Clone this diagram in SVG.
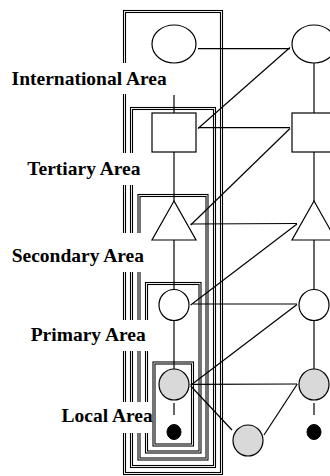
<svg xmlns="http://www.w3.org/2000/svg" width="330" height="476" viewBox="0 0 330 476">
<style>
.bx{fill:none;stroke:#000;stroke-width:1.1}
.bg{fill:#fff;stroke:none}
.lbl{font-family:"Liberation Serif","Times New Roman",serif;font-weight:bold;font-size:19.5px;fill:#000;text-anchor:end}
.n{fill:#fff;stroke:#000;stroke-width:1.2}
.g{fill:#d9d9d9;stroke:#000;stroke-width:1.2}
.k{fill:#000;stroke:#000;stroke-width:1}
.c line{stroke:#000;stroke-width:1.2}
</style>
<rect width="330" height="476" fill="#fff"/>
<g id="areas">
<g id="box-international"><rect class="bx" x="123.5" y="10.5" width="99" height="464"/><rect class="bx" x="125.5" y="12.5" width="95" height="460"/></g>
<g id="box-tertiary"><rect class="bx" x="130.5" y="107.5" width="85" height="360"/><rect class="bx" x="132.5" y="109.5" width="81" height="356"/></g>
<g id="box-secondary"><rect class="bx" x="138" y="194.5" width="70" height="265.5"/><rect class="bx" x="140" y="196.5" width="66" height="261.5"/></g>
<g id="box-primary"><rect class="bx" x="145.5" y="282.5" width="55.5" height="170.5"/><rect class="bx" x="147.5" y="284.5" width="51.5" height="166.5"/></g>
<g id="box-local"><rect class="bx" x="153" y="362" width="40.5" height="84"/><rect class="bx" x="155" y="364" width="36.5" height="80"/></g>
</g>
<g id="labels">
<g id="label-international"><rect class="bg" x="0" y="63" width="179" height="31"/><text class="lbl" x="166.7" y="85">International Area</text></g>
<g id="label-tertiary"><rect class="bg" x="0" y="153" width="146" height="32"/><text class="lbl" x="140.5" y="175">Tertiary Area</text></g>
<g id="label-secondary"><rect class="bg" x="0" y="233" width="146" height="39"/><text class="lbl" x="144" y="262">Secondary Area</text></g>
<g id="label-primary"><rect class="bg" x="0" y="320" width="150" height="31"/><text class="lbl" x="145.7" y="341">Primary Area</text></g>
<g id="label-local"><rect class="bg" x="0" y="402" width="152" height="31"/><text class="lbl" x="152.7" y="422">Local Area</text></g>
</g>
<g id="connectors" class="c">
<line x1="174" y1="95" x2="174" y2="113"/>
<line x1="174" y1="152" x2="174" y2="201"/>
<line x1="174" y1="240" x2="174" y2="289.5"/>
<line x1="174" y1="320.5" x2="174" y2="369"/>
<line x1="174" y1="403" x2="174" y2="415"/>
<line x1="314" y1="63" x2="314" y2="113"/>
<line x1="314" y1="152" x2="314" y2="201"/>
<line x1="314" y1="240" x2="314" y2="289.5"/>
<line x1="314" y1="320.5" x2="314" y2="369"/>
<line x1="314" y1="403" x2="314" y2="415"/>
<line x1="198" y1="48.7" x2="290" y2="48.7"/>
<line x1="198" y1="128.5" x2="290" y2="47.5"/>
<line x1="198" y1="127.7" x2="290" y2="127.7"/>
<line x1="190.7" y1="225" x2="290" y2="128.5"/>
<line x1="190.7" y1="224" x2="297" y2="223.5"/>
<line x1="190.7" y1="305" x2="297" y2="224"/>
<line x1="193" y1="304" x2="297" y2="304"/>
<line x1="190.7" y1="385.3" x2="297" y2="304.5"/>
<line x1="190.7" y1="384.3" x2="297" y2="384"/>
<line x1="190.7" y1="386" x2="232" y2="430"/>
<line x1="264" y1="435" x2="297.3" y2="384"/>
</g>
<g id="n-int-l"><ellipse class="n" cx="174" cy="44" rx="22" ry="19"/></g>
<g id="n-int-r"><ellipse class="n" cx="314" cy="44" rx="22" ry="19"/></g>
<g id="n-ter-l"><rect class="n" x="152" y="113" width="44" height="39"/></g>
<g id="n-ter-r"><rect class="n" x="292" y="113" width="44" height="39"/></g>
<g id="n-sec-l"><polygon class="n" points="174,201 152,240 196,240"/></g>
<g id="n-sec-r"><polygon class="n" points="314,201 292,240 336,240"/></g>
<g id="n-pri-l"><ellipse class="n" cx="174" cy="305" rx="15" ry="15.5"/></g>
<g id="n-pri-r"><ellipse class="n" cx="314" cy="305" rx="15" ry="15.5"/></g>
<g id="n-loc-l"><ellipse class="g" cx="174" cy="384.5" rx="15" ry="15.5"/></g>
<g id="n-loc-r"><ellipse class="g" cx="314" cy="384.5" rx="15" ry="15.5"/></g>
<g id="n-loc-m"><ellipse class="g" cx="248" cy="440.5" rx="15" ry="15.5"/></g>
<g id="n-dot-l"><ellipse class="k" cx="174" cy="432" rx="7" ry="7.5"/></g>
<g id="n-dot-r"><ellipse class="k" cx="314" cy="432" rx="7" ry="7.5"/></g>
</svg>
